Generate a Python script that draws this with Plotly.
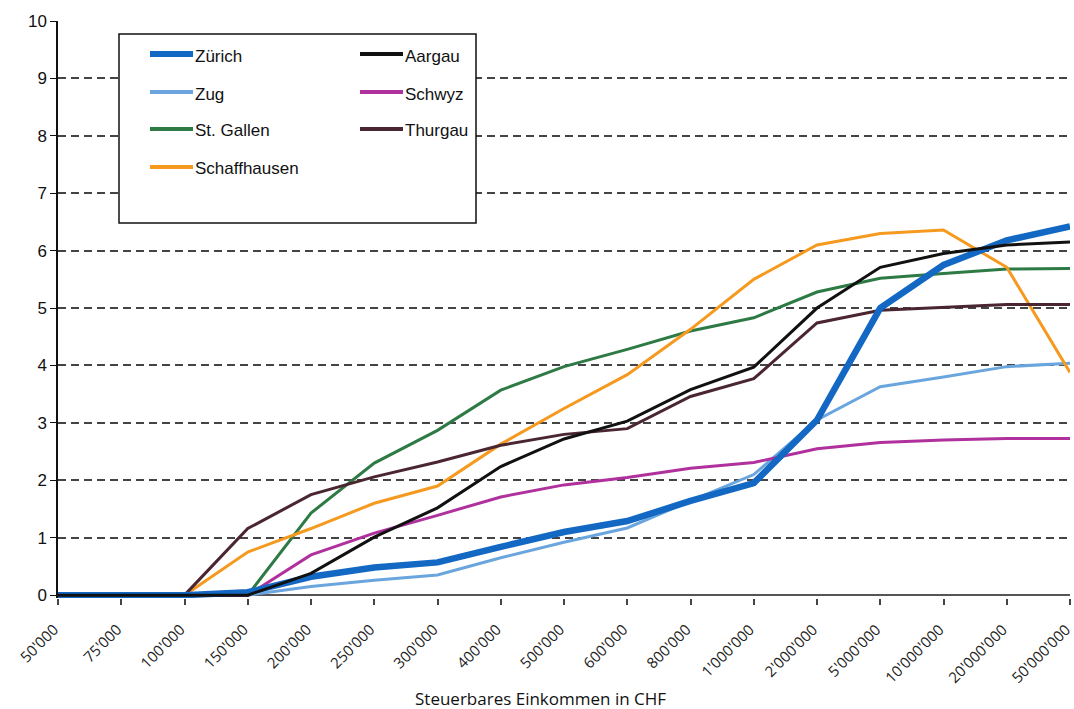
import plotly.graph_objects as go

categories = ["50'000", "75'000", "100'000", "150'000", "200'000", "250'000", "300'000",
              "400'000", "500'000", "600'000", "800'000", "1'000'000", "2'000'000",
              "5'000'000", "10'000'000", "20'000'000", "50'000'000"]

zuerich = [0, 0, 0, 0.05, 0.32, 0.48, 0.57, 0.84, 1.1, 1.29, 1.64, 1.95, 3.05, 5.0, 5.75, 6.18, 6.42]
zug = [0, 0, 0, 0, 0.15, 0.26, 0.35, 0.65, 0.92, 1.17, 1.64, 2.1, 3.05, 3.63, 3.8, 3.98, 4.04]
aargau = [0, 0, 0, 0, 0.38, 1.01, 1.52, 2.24, 2.72, 3.03, 3.58, 3.97, 5.0, 5.71, 5.95, 6.1, 6.15]
schwyz = [0, 0, 0, 0, 0.7, 1.08, 1.39, 1.71, 1.92, 2.05, 2.21, 2.31, 2.55, 2.66, 2.7, 2.73, 2.73]
st_gallen = [0, 0, 0, 0, 1.43, 2.3, 2.87, 3.57, 3.98, 4.28, 4.6, 4.83, 5.28, 5.52, 5.6, 5.68, 5.69]
thurgau = [0, 0, 0, 1.16, 1.75, 2.06, 2.32, 2.61, 2.8, 2.9, 3.46, 3.77, 4.74, 4.96, 5.01, 5.06, 5.06]
schaffhausen = [0, 0, 0, 0.75, 1.16, 1.6, 1.9, 2.63, 3.25, 3.84, 4.63, 5.5, 6.1, 6.3, 6.36, 5.71, 3.88]

y_ticks = list(range(0, 11))
x_title = "Steuerbares Einkommen in CHF"

series = [
    ("Zürich", zuerich, "#1268c3", 6.5),
    ("Aargau", aargau, "#111111", 3),
    ("Zug", zug, "#6aa6dd", 3),
    ("Schwyz", schwyz, "#b0319d", 3),
    ("St. Gallen", st_gallen, "#2e7a45", 3),
    ("Thurgau", thurgau, "#4a2631", 3),
    ("Schaffhausen", schaffhausen, "#f5991f", 3),
]
draw_order = ["Zug", "St. Gallen", "Schaffhausen", "Thurgau", "Schwyz", "Zürich", "Aargau"]

W, H = 1074, 709
L, R, T, B = 58, 4, 21, 111
PW, PH = W - L - R, H - T - B


def px(x):
    return (x - L) / PW


def py(y):
    return (H - B - y) / PH


fig = go.Figure()
lookup = {s[0]: s for s in series}
for name in draw_order:
    n, vals, col, w = lookup[name]
    fig.add_trace(go.Scatter(x=categories, y=vals, mode="lines", name=n,
                             line=dict(color=col, width=w), showlegend=False))

shapes = [dict(type="rect", xref="paper", yref="paper", x0=px(119), x1=px(476),
               y0=py(223), y1=py(34), line=dict(color="#111", width=1.5),
               fillcolor="white", layer="above")]
annotations = []
rows = [54, 92, 129, 167]
for i, (n, vals, col, w) in enumerate(series):
    colx = i % 2
    row = i // 2
    x0 = 150 if colx == 0 else 360
    yy = rows[row]
    shapes.append(dict(type="line", xref="paper", yref="paper", x0=px(x0), x1=px(x0 + 43),
                       y0=py(yy), y1=py(yy), line=dict(color=col, width=6 if w > 3 else 4),
                       layer="above"))
    annotations.append(dict(x=px(x0 + 43), y=py(yy + 2), xref="paper", yref="paper",
                            text=n, showarrow=False, xanchor="left", yanchor="middle",
                            font=dict(family="Liberation Sans, Arial", size=17, color="#111")))

annotations.append(dict(x=px(540), y=py(698), xref="paper", yref="paper", text=x_title,
                        showarrow=False, xanchor="center", yanchor="middle",
                        font=dict(family="Open Sans", size=17, color="#111")))

fig.update_layout(
    width=W, height=H,
    template="none",
    margin=dict(l=L, r=R, t=T, b=B, autoexpand=False),
    paper_bgcolor="white", plot_bgcolor="white",
    showlegend=False,
    shapes=shapes,
    annotations=annotations,
    xaxis=dict(type="category", range=[0, 16], showgrid=False, showline=False,
               ticks="outside", ticklen=6, tickcolor="#444", tickwidth=1.5,
               tickangle=-45, automargin=False, ticklabelstandoff=10, ticklabelshift=-4,
               tickfont=dict(family="Open Sans", size=15, color="#222")),
    yaxis=dict(range=[-0.05, 10], tickvals=y_ticks, showgrid=True, gridcolor="#444",
               gridwidth=1.5, griddash="8px,5px", zeroline=True, zerolinecolor="#555",
               zerolinewidth=2, showline=True, linecolor="#111", linewidth=1.5,
               ticks="outside", ticklen=6, tickcolor="#111", automargin=False,
               tickfont=dict(family="Liberation Sans, Arial", size=17, color="#111")),
)

fig.write_html("out.html", post_script="document.body.style.margin='0';",
               config={"displayModeBar": False})
